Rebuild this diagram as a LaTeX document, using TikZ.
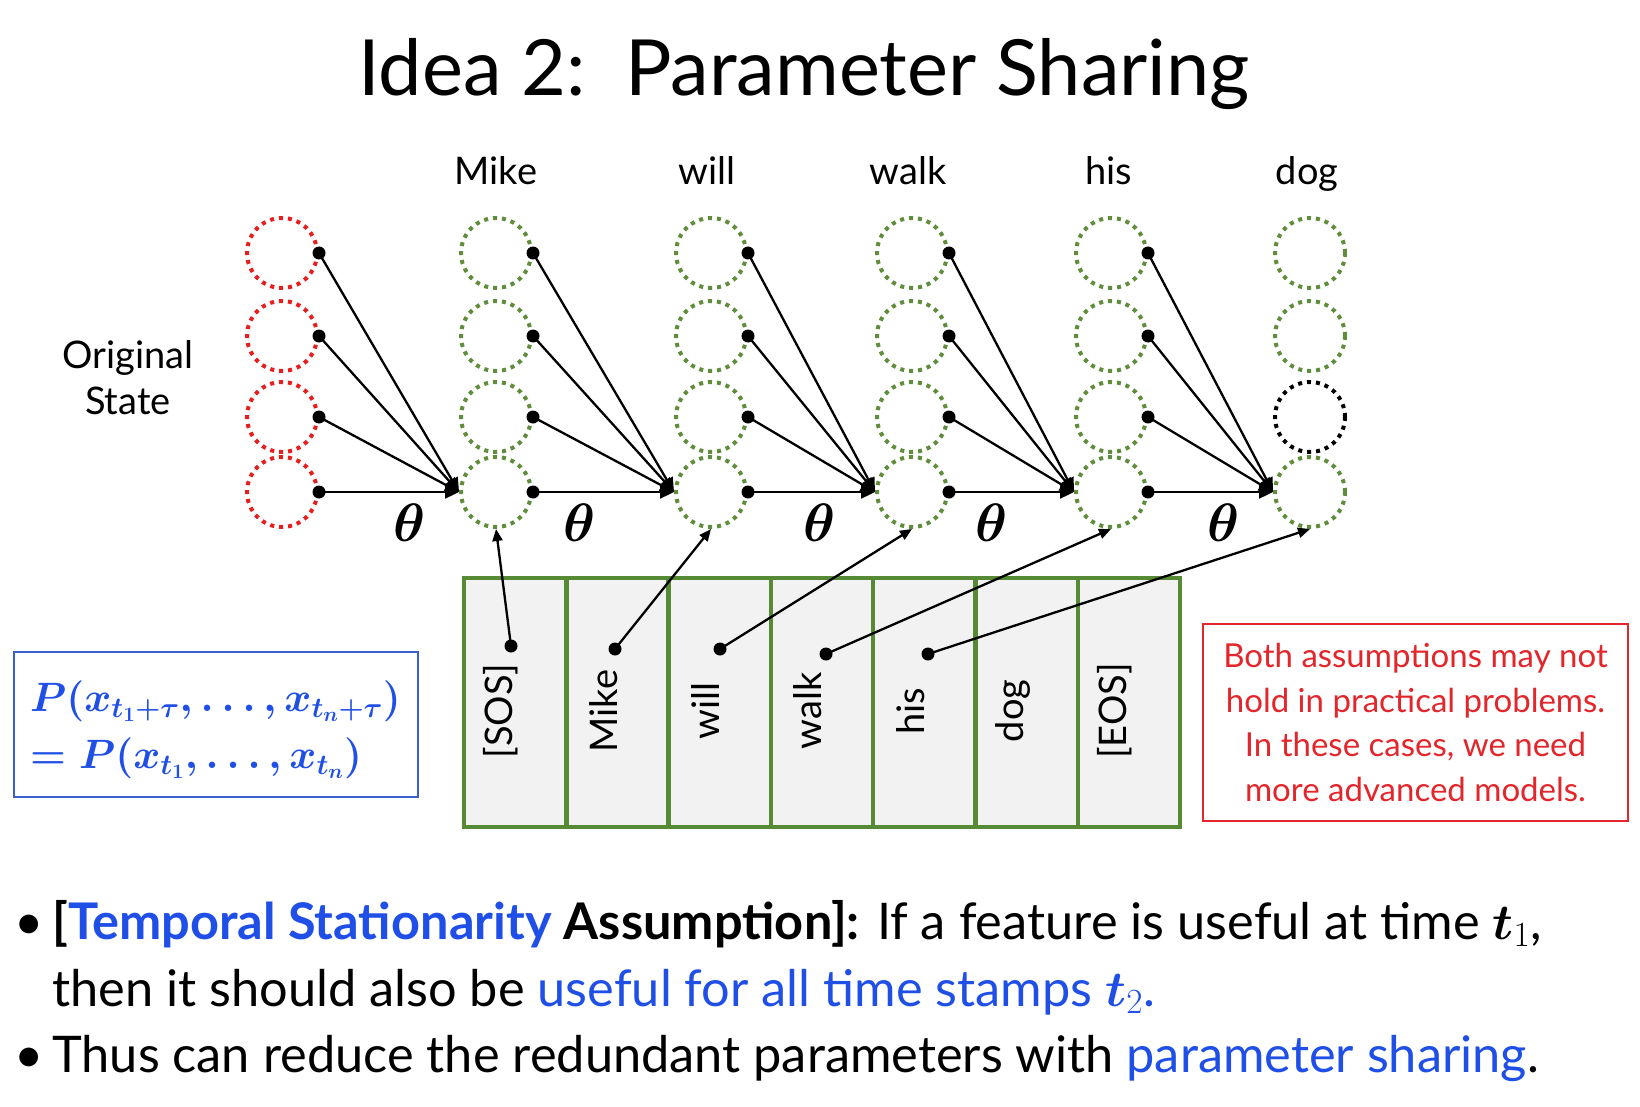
\RequirePackage{fix-cm}
\documentclass[tikz,border=0pt]{standalone}
\usepackage{amsmath,bm}
\usepackage{fontspec}
\setmainfont{Lato}
\usetikzlibrary{arrows.meta,positioning}
\definecolor{psInk}{HTML}{000000}
\definecolor{psRed}{HTML}{E3262B}
\definecolor{psRedDot}{HTML}{E81E1E}
\definecolor{psGreen}{HTML}{5F8D3C}
\definecolor{psBoxGreen}{HTML}{568A34}
\definecolor{psBlue}{HTML}{1F4FE6}
\definecolor{psBlueLine}{HTML}{3C5FD0}
\definecolor{psCell}{HTML}{F2F2F2}
\tikzset{
  ps state/.style={circle, draw=psGreen, line width=4pt, dash pattern=on 4pt off 5pt,
    minimum size=70pt, inner sep=0pt},
  ps init/.style={ps state, draw=psRedDot},
  ps masked/.style={ps state, draw=psInk},
  ps dot/.style={circle, fill=psInk, inner sep=0pt, minimum size=13pt},
  ps link/.style={draw=psInk, line width=2.3pt, -{Triangle[length=14pt,width=13pt]}},
  ps feed/.style={draw=psInk, line width=2.3pt, -{Triangle[length=12pt,width=10pt]}},
  ps title/.style={font=\fontsize{77.5}{80}\selectfont, anchor=base},
  ps word/.style={font=\fontsize{38}{46}\selectfont, anchor=base},
  ps theta/.style={font=\fontsize{54}{60}\selectfont},
  ps cell/.style={draw=psBoxGreen, line width=4.5pt, fill=psCell,
    minimum width=102.3pt, minimum height=249pt, inner sep=0pt},
  ps token/.style={font=\fontsize{38}{46}\selectfont, rotate=90},
  ps formula box/.style={draw=psBlueLine, line width=1.6pt, minimum width=404pt,
    minimum height=145pt, inner sep=0pt},
  ps formula/.style={text=psBlue, anchor=base west, inner sep=0pt,
    font=\fontsize{41}{50}\selectfont\boldmath},
  ps note/.style={draw=psRed, line width=1.6pt, text=psRed, align=center,
    minimum width=425pt, minimum height=197pt, font=\fontsize{33}{44.5}\selectfont},
  ps bullet/.style={font=\fontsize{50.5}{66}\selectfont, anchor=base west, inner sep=0pt}
}

\begin{document}
\begin{tikzpicture}[x=1pt,y=-1pt]
  \useasboundingbox[fill=white] (0,0) rectangle (1640,1107);

  \node[ps title] (title) at (804,96) {Idea 2:\ \ Parameter Sharing};

  \foreach \r/\y in {1/253,2/336,3/417,4/492}
    \node[ps init] (n0-\r) at (282,\y) {};
  \foreach \c/\x in {1/496,2/711,3/912,4/1111}
    \foreach \r/\y in {1/253,2/336,3/417,4/492}
      \node[ps state] (n\c-\r) at (\x,\y) {};
  \node[ps state] (n5-1) at (1310,253) {};
  \node[ps state] (n5-2) at (1310,336) {};
  \node[ps masked] (n5-3) at (1310,417) {};
  \node[ps state] (n5-4) at (1310,492) {};

  \node[ps word] (w1) at (496,185) {Mike};
  \node[ps word] (w2) at (707,185) {will};
  \node[ps word] (w3) at (908,185) {walk};
  \node[ps word] (w4) at (1109,185) {his};
  \node[ps word] (w5) at (1307,185) {dog};
  \node[ps word, anchor=center, align=center] (orig) at (128,378) {Original\\State};

  \foreach \c in {0,...,4}
    \foreach \r in {1,...,4}
      \node[ps dot] (d\c-\r) at (n\c-\r.east) {};
  \foreach \c [evaluate=\c as \n using int(\c+1)] in {0,...,4}
    \foreach \r in {1,...,4}
      \draw[ps link] (d\c-\r.center) -- (n\n-4.west);

  \node[ps theta] (th1) at (410,523) {$\bm{\theta}$};
  \node[ps theta] (th2) at (580,523) {$\bm{\theta}$};
  \node[ps theta] (th3) at (820,523) {$\bm{\theta}$};
  \node[ps theta] (th4) at (992,523) {$\bm{\theta}$};
  \node[ps theta] (th5) at (1224,523) {$\bm{\theta}$};

  \foreach \i/\w in {1/{[SOS]},2/Mike,3/will,4/walk,5/his,6/dog,7/{[EOS]}} {
    \node[ps cell] (cell\i) at ({464+102.3*(\i-0.5)},702.5) {};
    \node[ps token] (tok\i) at ({450+102.3*(\i-0.5)},711) {\w};
  }
  \node[ps dot] (t1) at (511,646) {};
  \node[ps dot] (t2) at (615,649) {};
  \node[ps dot] (t3) at (720,649) {};
  \node[ps dot] (t4) at (826,654) {};
  \node[ps dot] (t5) at (928,654) {};
  \draw[ps feed] (t1.center) -- (n1-4.south);
  \draw[ps feed] (t2.center) -- (n2-4.south);
  \draw[ps feed] (t3.center) -- (n3-4.south);
  \draw[ps feed] (t4.center) -- (n4-4.south);
  \draw[ps feed] (t5.center) -- (n5-4.south);

  \node[ps formula box] (statbox) at (216,724.5) {};
  \node[ps formula] (stat1) at (30,711) {$P(x_{t_1+\tau},\dots,x_{t_n+\tau})$};
  \node[ps formula] (stat2) at (30,768) {$=P(x_{t_1},\dots,x_{t_n})$};

  \node[ps note] (note) at (1415.5,722.5)
    {Both assumptions may not\\hold in practical problems.\\In these cases, we need\\more advanced models.};

  \node[ps bullet] (b1) at (14,939) {\textbullet};
  \node[ps bullet] (l1) at (52,939) {\textbf{[\textcolor{psBlue}{Temporal Stationarity} Assumption]:}
    If a feature is useful at time $\bm{t}_{1}$,};
  \node[ps bullet] (l2) at (52,1006) {then it should also be
    \textcolor{psBlue}{useful for all time stamps $\bm{t}_{2}$.}};
  \node[ps bullet] (b2) at (14,1072) {\textbullet};
  \node[ps bullet] (l3) at (52,1072) {Thus can reduce the redundant parameters with
    \textcolor{psBlue}{parameter sharing}.};
\end{tikzpicture}
\end{document}
